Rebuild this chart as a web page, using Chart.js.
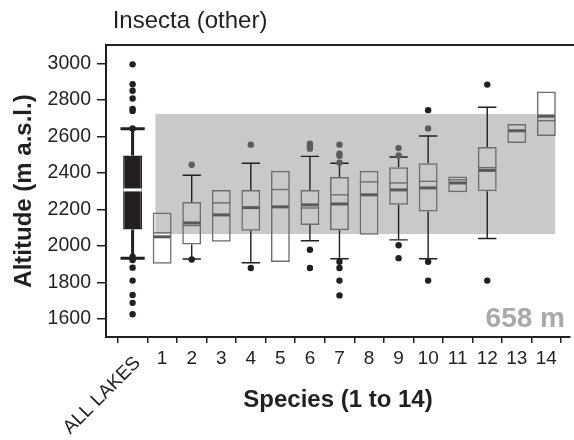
<!DOCTYPE html>
<html>
<head>
<meta charset="utf-8">
<script src="https://cdn.jsdelivr.net/npm/chart.js@4.4.0/dist/chart.umd.min.js"></script>
<style>
  html, body { margin: 0; padding: 0; background: #fff; }
  #wrap { width: 574px; height: 440px; }
</style>
</head>
<body>
<div id="wrap"><canvas id="chart" width="574" height="440"></canvas></div>
<script>
// box plot data (altitude, m a.s.l.)
const categories = ['ALL LAKES', '1', '2', '3', '4', '5', '6', '7', '8', '9', '10', '11', '12', '13', '14'];
const q1      = [2089, 1902, 2007, 2022, 2082, 1911, 2114, 2085, 2060, 2224, 2187, 2293, 2299, 2563, 2601];
const q3      = [2495, 2182, 2240, 2306, 2306, 2411, 2306, 2377, 2411, 2430, 2452, 2379, 2541, 2667, 2845];
const median  = [2306, 2049, 2125, 2169, 2209, 2213, 2224, 2229, 2279, 2306, 2317, 2344, 2413, 2630, 2710];
const mean    = [null, 2071, 2111, 2235, null, 2308, 2207, 2279, 2350, 2344, 2353, 2362, 2428, null, 2685];
const whiskerLow  = [1931, null, 1927, null, 1907, null, 2027, 1929, null, 2032, 1929, null, 2040, null, null];
const whiskerHigh = [2641, null, 2386, null, 2452, null, 2490, 2452, null, 2486, 2601, null, 2759, null, null];
const outliers = [
  [2994, 2885, 2849, 2807, 2749, 2739, 2643, 1940, 1922, 1880, 1809, 1730, 1687, 1625],
  [],
  [2444, 1925],
  [],
  [2554, 1878],
  [],
  [2559, 2544, 2532, 1978, 1878],
  [2554, 2504, 2493, 2455, 1912, 1878, 1809, 1728],
  [],
  [2535, 2495, 2003, 1932],
  [2743, 2643, 1912, 1809],
  [],
  [2883, 1809],
  [],
  []
];
const yTicks = [1600, 1800, 2000, 2200, 2400, 2600, 2800, 3000];
// altitude range of the lakes (shaded band) and the species it spans
const bandLow = 2064;
const bandHigh = 2722;
const bandFrom = 0.77;
const bandTo = 14.3;

const INK = '#231f20';
const FONT = '"Liberation Sans", Arial, Helvetica, sans-serif';

const inBand = (p) => p && p.x >= bandFrom && p.x <= bandTo && p.y >= bandLow && p.y <= bandHigh;

const outlierPoints = [];
outliers.forEach((vals, i) => vals.forEach(v => outlierPoints.push({ x: i, y: v })));

const boxPlugin = {
  id: 'boxDetails',
  beforeDatasetsDraw(chart) {
    const { ctx, scales: { x, y } } = chart;
    ctx.save();
    // lake altitude band
    const bx0 = x.getPixelForValue(bandFrom), bx1 = x.getPixelForValue(bandTo);
    const by0 = y.getPixelForValue(bandHigh), by1 = y.getPixelForValue(bandLow);
    ctx.fillStyle = '#c8c9cb';
    ctx.fillRect(bx0, by0, bx1 - bx0, by1 - by0);

    // whiskers + caps
    categories.forEach((c, i) => {
      if (whiskerLow[i] == null) return;
      const all = i === 0;
      const cx = x.getPixelForValue(i);
      const half = x.getPixelForValue(i + (all ? 0.41 : 0.31)) - cx;
      ctx.strokeStyle = INK;
      ctx.lineWidth = all ? 3 : 1.4;
      ctx.beginPath();
      ctx.moveTo(cx, y.getPixelForValue(q3[i]));
      ctx.lineTo(cx, y.getPixelForValue(whiskerHigh[i]));
      ctx.moveTo(cx, y.getPixelForValue(q1[i]));
      ctx.lineTo(cx, y.getPixelForValue(whiskerLow[i]));
      ctx.moveTo(cx - half, y.getPixelForValue(whiskerHigh[i]));
      ctx.lineTo(cx + half, y.getPixelForValue(whiskerHigh[i]));
      ctx.moveTo(cx - half, y.getPixelForValue(whiskerLow[i]));
      ctx.lineTo(cx + half, y.getPixelForValue(whiskerLow[i]));
      ctx.stroke();
    });
    ctx.restore();
  },
  afterDatasetsDraw(chart) {
    const { ctx, chartArea, scales: { x, y } } = chart;
    ctx.save();
    // median (thick) and mean (thin) lines
    categories.forEach((c, i) => {
      const cx = x.getPixelForValue(i);
      const half = x.getPixelForValue(i + 0.31) - cx;
      if (mean[i] != null) {
        ctx.strokeStyle = '#6d6e71';
        ctx.lineWidth = 1.4;
        ctx.beginPath();
        ctx.moveTo(cx - half, y.getPixelForValue(mean[i]));
        ctx.lineTo(cx + half, y.getPixelForValue(mean[i]));
        ctx.stroke();
      }
      ctx.strokeStyle = i === 0 ? '#ffffff' : '#58595b';
      ctx.lineWidth = 3;
      ctx.beginPath();
      ctx.moveTo(cx - half + (i === 0 ? 0 : 0.7), y.getPixelForValue(median[i]));
      ctx.lineTo(cx + half - (i === 0 ? 0 : 0.7), y.getPixelForValue(median[i]));
      ctx.stroke();
    });

    // top frame line
    ctx.strokeStyle = INK;
    ctx.lineWidth = 2;
    ctx.beginPath();
    ctx.moveTo(chartArea.left, chartArea.top);
    ctx.lineTo(chart.width, chartArea.top);
    ctx.stroke();

    // band width label
    ctx.fillStyle = '#a7a9ac';
    ctx.font = 'bold 28px ' + FONT;
    ctx.textAlign = 'right';
    ctx.textBaseline = 'alphabetic';
    ctx.fillText((bandHigh - bandLow) + ' m', chartArea.right - 5, chartArea.bottom - 10);

    // panel title
    ctx.fillStyle = INK;
    ctx.font = '24px ' + FONT;
    ctx.textAlign = 'center';
    ctx.fillText('Insecta (other)', 190, 28);

    // rotated first category label
    ctx.save();
    ctx.translate(x.getPixelForValue(0) + 5, chartArea.bottom + 23);
    ctx.rotate(-Math.PI / 4);
    ctx.font = '19px ' + FONT;
    ctx.textAlign = 'right';
    ctx.textBaseline = 'middle';
    ctx.fillText(categories[0], 0, 0);
    ctx.restore();
    ctx.restore();
  }
};

new Chart(document.getElementById('chart'), {
  type: 'bar',
  data: {
    datasets: [{
      type: 'bar',
      data: categories.map((c, i) => ({ x: i, y: [q1[i], q3[i]] })),
      backgroundColor: categories.map((c, i) => i === 0 ? INK : 'rgba(0,0,0,0)'),
      borderColor: categories.map((c, i) => i === 0 ? INK : '#6d6e71'),
      borderWidth: 1.5,
      borderSkipped: false,
      barPercentage: 0.64,
      categoryPercentage: 1
    }, {
      type: 'scatter',
      data: outlierPoints,
      pointRadius: 3.2,
      pointBorderWidth: 0,
      pointBackgroundColor: (c) => inBand(c.raw) ? '#5b5c5e' : INK
    }]
  },
  options: {
    responsive: false,
    animation: false,
    layout: { padding: { top: 45, right: 0, bottom: 0, left: 0 } },
    plugins: { legend: { display: false }, tooltip: { enabled: false }, title: { display: false } },
    scales: {
      x: {
        type: 'linear',
        min: -0.9,
        max: 14.8,
        offset: false,
        afterFit: (s) => { s.height = 103; },
        afterBuildTicks: (s) => { s.ticks = categories.map((c, i) => ({ value: i })); },
        border: { display: true, color: INK, width: 2 },
        grid: { display: true, drawOnChartArea: false, drawTicks: true, tickLength: 6, color: INK, lineWidth: 1.5 },
        ticks: {
          autoSkip: false, maxRotation: 0, minRotation: 0, padding: 4,
          color: INK, font: { family: FONT, size: 19 },
          callback: (v) => v === 0 ? '' : categories[v]
        },
        title: {
          display: true, text: 'Species (1 to 14)', color: INK,
          font: { family: FONT, size: 24, weight: 'bold' },
          padding: { top: 0, bottom: 25 }
        }
      },
      y: {
        min: 1500,
        max: 3100,
        afterFit: (s) => { s.width = 106; },
        afterBuildTicks: (s) => { s.ticks = yTicks.map(v => ({ value: v })); },
        border: { display: true, color: INK, width: 2 },
        grid: { display: true, drawOnChartArea: false, drawTicks: true, tickLength: 9, color: INK, lineWidth: 1.5 },
        ticks: {
          padding: 6, color: INK, font: { family: FONT, size: 19.5 },
          callback: (v) => String(v)
        },
        title: {
          display: true, text: 'Altitude (m a.s.l.)', color: INK,
          font: { family: FONT, size: 24, weight: 'bold' },
          padding: { top: 10, bottom: 0 }
        }
      }
    }
  },
  plugins: [boxPlugin]
});
</script>
</body>
</html>
